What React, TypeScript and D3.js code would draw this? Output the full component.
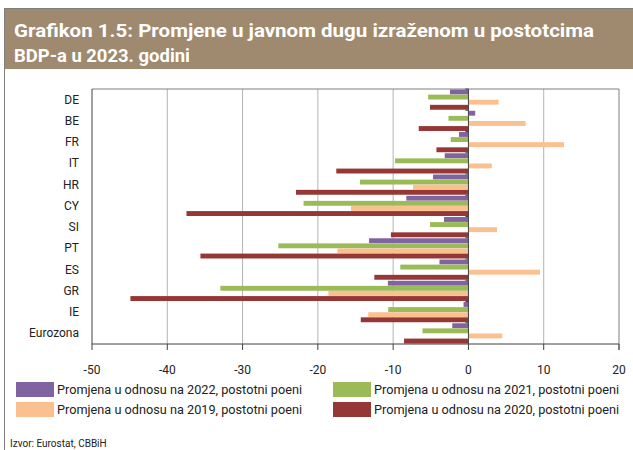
import React from "react";
import * as d3 from "d3";

const countries = ["DE", "BE", "FR", "IT", "HR", "CY", "SI", "PT", "ES", "GR", "IE", "Eurozona"];
const vs2022 = [-2.45, 0.9, -1.25, -3.15, -4.7, -8.25, -3.25, -13.2, -3.85, -10.7, -0.65, -2.15];
const vs2021 = [-5.35, -2.65, -2.35, -9.75, -14.4, -21.9, -5.1, -25.25, -9.05, -32.95, -10.65, -6.1];
const vs2019 = [4.0, 7.6, 12.7, 3.1, -7.35, -15.6, 3.8, -17.4, 9.5, -18.6, -13.3, 4.5];
const vs2020 = [-5.1, -6.6, -4.25, -17.55, -22.9, -37.45, -10.3, -35.6, -12.5, -44.9, -14.3, -8.55];
const xTicks = [-50, -40, -30, -20, -10, 0, 10, 20];

const series = [
  { key: "2022", label: "Promjena u odnosu na 2022, postotni poeni", values: vs2022, color: "#8064a2" },
  { key: "2021", label: "Promjena u odnosu na 2021, postotni poeni", values: vs2021, color: "#9bbb59" },
  { key: "2019", label: "Promjena u odnosu na 2019, postotni poeni", values: vs2019, color: "#fac090" },
  { key: "2020", label: "Promjena u odnosu na 2020, postotni poeni", values: vs2020, color: "#953735" },
];

const W = 633;
const H = 450;
const plot = { left: 92, right: 619, top: 89, bottom: 344 };
const font = "'Roboto', 'Noto Sans', sans-serif";

function App() {
  const x = d3.scaleLinear().domain([-50, 20]).range([plot.left, plot.right]);
  const y = d3.scaleBand().domain(countries).range([plot.top, plot.bottom]).padding(0);
  const inner = d3
    .scaleBand()
    .domain(series.map((s) => s.key))
    .range([0, y.bandwidth()])
    .paddingOuter(0.1)
    .paddingInner(0.04);

  // legend: two columns, two rows
  const legendPos = [
    { x: 16, y: 382 },
    { x: 333, y: 382 },
    { x: 16, y: 402 },
    { x: 333, y: 402 },
  ];
  const legendOrder = ["2022", "2021", "2019", "2020"];

  return (
    <svg width={W} height={H} style={{ position: "absolute", left: 0, top: 0, background: "#fff" }}>
      {/* outer frame */}
      <rect x={4.5} y={8.5} width={W + 10} height={H + 10} fill="#fff" stroke="#7f7f7f" strokeWidth={1} />
      {/* title banner */}
      <rect x={5} y={9} width={W} height={60} fill="#a08a6f" />
      <text x={14} y={37} fill="#fff" fontFamily={font} fontWeight="bold" fontSize={19}
        textLength={580} lengthAdjust="spacingAndGlyphs">
        Grafikon 1.5: Promjene u javnom dugu izraženom u postotcima
      </text>
      <text x={14} y={62} fill="#fff" fontFamily={font} fontWeight="bold" fontSize={19}
        textLength={176} lengthAdjust="spacingAndGlyphs">
        BDP-a u 2023. godini
      </text>

      {/* gridlines */}
      {xTicks.filter((t) => t !== -50 && t !== 0 && t !== 20).map((t) => (
        <line key={"g" + t} x1={x(t)} x2={x(t)} y1={plot.top} y2={plot.bottom} stroke="#b3b3b3" strokeWidth={1} />
      ))}

      {/* bars */}
      {series.map((s) => (
        <g key={s.key}>
          {s.values.map((v, i) => (
            <rect
              key={countries[i]}
              x={Math.min(x(0), x(v))}
              y={(y(countries[i]) as number) + (inner(s.key) as number)}
              width={Math.abs(x(v) - x(0))}
              height={inner.bandwidth()}
              fill={s.color}
            />
          ))}
        </g>
      ))}

      {/* plot frame */}
      <line x1={plot.left} x2={plot.right} y1={plot.top} y2={plot.top} stroke="#7f7f7f" />
      <line x1={plot.left} x2={plot.left} y1={plot.top} y2={plot.bottom} stroke="#404040" />
      <line x1={plot.right} x2={plot.right} y1={plot.top} y2={plot.bottom + 6} stroke="#7f7f7f" />
      {/* zero axis with category ticks */}
      <line x1={x(0)} x2={x(0)} y1={plot.top} y2={plot.bottom} stroke="#404040" />
      {countries.map((c) => (
        <line key={"yt" + c} x1={x(0) - 3} x2={x(0)} y1={y(c) as number} y2={y(c) as number} stroke="#404040" />
      ))}
      {/* bottom axis */}
      <line x1={plot.left} x2={plot.right} y1={plot.bottom} y2={plot.bottom} stroke="#404040" />
      {xTicks.map((t) => (
        <g key={"t" + t}>
          <line x1={x(t)} x2={x(t)} y1={plot.bottom} y2={plot.bottom + 6} stroke="#404040" />
          <text x={x(t)} y={374} textAnchor="middle" fontFamily={font} fontSize={12} fill="#222">
            {t}
          </text>
        </g>
      ))}

      {/* category labels */}
      {countries.map((c) => (
        <text key={"l" + c} x={79} y={(y(c) as number) + y.bandwidth() / 2 + 4} textAnchor="end"
          fontFamily={font} fontSize={12} fill="#222">
          {c}
        </text>
      ))}

      {/* legend */}
      {legendOrder.map((k, i) => {
        const s = series.find((d) => d.key === k)!;
        const p = legendPos[i];
        return (
          <g key={"lg" + k}>
            <rect x={p.x} y={p.y} width={38} height={15} fill={s.color} />
            <text x={p.x + 41} y={p.y + 12} fontFamily={font} fontSize={12.5} fill="#222"
              textLength={245} lengthAdjust="spacingAndGlyphs">
              {s.label}
            </text>
          </g>
        );
      })}

      <text x={10} y={447} fontFamily={font} fontSize={10} fill="#222">
        Izvor: Eurostat, CBBiH
      </text>
    </svg>
  );
}

export default App;
